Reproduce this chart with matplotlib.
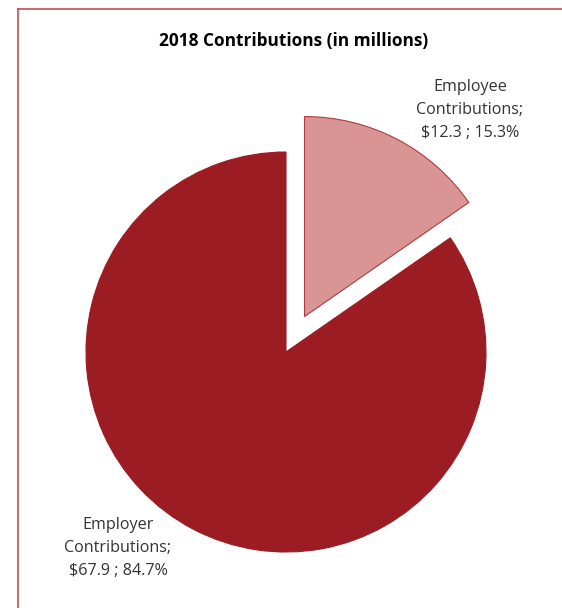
import matplotlib.pyplot as plt
from matplotlib.lines import Line2D

# contribution amounts, in millions
names = ['Employee\nContributions', 'Employer\nContributions']
amounts = [12.3, 67.9]
colors = ['#D99594', '#9B1C22']
explode = [0.2, 0.0]

plt.rcParams['font.family'] = ['Open Sans', 'DejaVu Sans']

W, H = 562, 608
fig = plt.figure(figsize=(W / 100, H / 100), dpi=100)

# pie centre and radius in pixels
cx, cy, r = 286, 352, 200
half = 1.5 * r
ax = fig.add_axes([(cx - half) / W, (H - cy - half) / H, 2 * half / W, 2 * half / H])

wedges, _ = ax.pie(amounts, colors=colors, explode=explode, startangle=90,
                   counterclock=False, radius=1.0,
                   wedgeprops=dict(edgecolor='#B03A3E', linewidth=0.8))
wedges[1].set_edgecolor(colors[1])
ax.set_xlim(-1.5, 1.5)
ax.set_ylim(-1.5, 1.5)
ax.set_aspect('auto')
ax.axis('off')

total = sum(amounts)
label_pos = [(0.92, 1.21), (-0.84, -0.98)]
for name, val, (lx, ly) in zip(names, amounts, label_pos):
    pct = val / total * 100
    ax.text(lx, ly, f'{name};\n${val:.1f} ; {pct:.1f}%', ha='center', va='center',
            fontsize=11.6, color='#333333', linespacing=1.62)

fig.text(294 / W, 1 - 41 / H, '2018 Contributions (in millions)', ha='center', va='center',
         fontsize=12.4, fontweight='bold', color='black')

# open frame: left and top edges only
frame = '#C0504D'
fig.add_artist(Line2D([18 / W, 18 / W], [0, 1 - 8.5 / H], transform=fig.transFigure, color=frame, lw=1.2))
fig.add_artist(Line2D([18 / W, 1], [1 - 8.5 / H, 1 - 8.5 / H], transform=fig.transFigure, color=frame, lw=1.2))

fig.savefig('out.png', dpi=100)
